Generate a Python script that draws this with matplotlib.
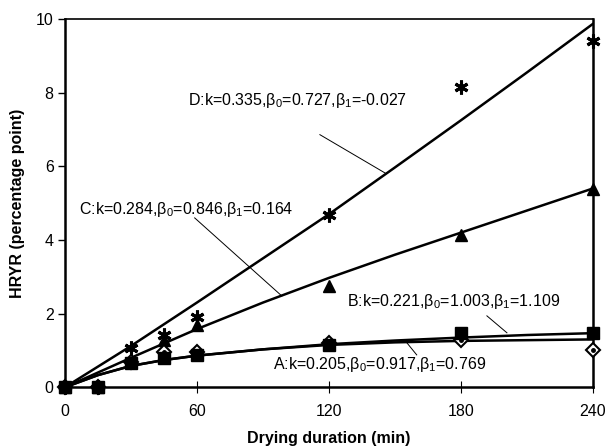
import numpy as np
import matplotlib
matplotlib.use('Agg')
import matplotlib.pyplot as plt

plt.rcParams['font.family'] = ['Liberation Sans', 'DejaVu Sans']
plt.rcParams['mathtext.fontset'] = 'custom'
plt.rcParams['mathtext.rm'] = 'Liberation Sans'
plt.rcParams['mathtext.it'] = 'Liberation Sans'

# measured HRYR points (drying duration in min)
tObs = [0, 15, 30, 45, 60, 120, 180, 240]
aObs = [0, 0, 0.70, 0.97, 0.97, 1.20, 1.28, 1.01]
bObs = [0, 0, 0.65, 0.80, 0.88, 1.15, 1.48, 1.47]
cObs = [0, 0, 0.74, 1.29, 1.69, 2.76, 4.14, 5.39]
dObs = [0, 0, 1.07, 1.42, 1.92, 4.67, 8.15, 9.40]

# fitted curves
tFit = [0, 15, 30, 45, 60, 90, 120, 150, 180, 210, 240]
aFit = [0, 0.33, 0.58, 0.74, 0.86, 1.03, 1.15, 1.22, 1.26, 1.28, 1.30]
bFit = [0, 0.33, 0.58, 0.74, 0.86, 1.03, 1.17, 1.27, 1.35, 1.42, 1.47]
cFit = [0, 0.40, 0.80, 1.19, 1.58, 2.30, 2.97, 3.60, 4.20, 4.80, 5.40]
dFit = [0, 0.56, 1.12, 1.71, 2.30, 3.50, 4.70, 5.97, 7.25, 8.55, 9.87]

labels = {
    'D': r'D:k=0.335,$\beta_0$=0.727,$\beta_1$=-0.027',
    'C': r'C:k=0.284,$\beta_0$=0.846,$\beta_1$=0.164',
    'B': r'B:k=0.221,$\beta_0$=1.003,$\beta_1$=1.109',
    'A': r'A:k=0.205,$\beta_0$=0.917,$\beta_1$=0.769',
}

fig = plt.figure(figsize=(6.06, 4.48), dpi=100)
ax = fig.add_axes([0.107, 0.1355, 0.8715, 0.822])

for yFit in (dFit, cFit, bFit, aFit):
    ax.plot(tFit, yFit, color='black', lw=1.8, zorder=2)

ax.plot(tObs, dObs, ls='none', marker=(6, 2, 0), ms=10, mew=2.2, color='black', zorder=3, clip_on=False)
ax.plot(tObs, cObs, ls='none', marker='^', ms=8, color='black', zorder=3, clip_on=False)
ax.plot(tObs, aObs, ls='none', marker='D', ms=7, mfc='white', mec='black', mew=1.5, zorder=3, clip_on=False)
ax.plot(tObs, aObs, ls='none', marker='o', ms=2.5, color='black', zorder=3, clip_on=False)
ax.plot(tObs, bObs, ls='none', marker='s', ms=8, color='black', zorder=4, clip_on=False)

# annotations with leader lines
ann = [
    ('D', (56, 7.8), (115.9, 6.86), (145.5, 5.82)),
    ('C', (6.5, 4.82), (59, 4.6), (98.6, 2.48)),
    ('B', (128, 2.32), (191.8, 1.94), (200.9, 1.48)),
    ('A', (94.5, 0.63), (155, 1.24), (159.9, 0.88)),
]
for key, txtPos, p0, p1 in ann:
    ax.text(txtPos[0], txtPos[1], labels[key], fontsize=11.5, ha='left', va='center')
    ax.plot([p0[0], p1[0]], [p0[1], p1[1]], color='black', lw=0.7)

ax.set_xlim(0, 240)
ax.set_ylim(0, 10)
ax.set_xticks([0, 60, 120, 180, 240])
ax.set_yticks([0, 2, 4, 6, 8, 10])
ax.tick_params(axis='y', direction='out', length=5, width=1, labelsize=11.5, pad=3)
ax.tick_params(axis='x', direction='inout', length=8, width=0.8, labelsize=11.5, pad=8)

for side in ('left', 'bottom', 'right'):
    ax.spines[side].set_linewidth(1.8)
ax.spines['top'].set_linewidth(1.2)

ax.set_xlabel('Drying duration (min)', fontsize=11.5, fontweight='bold', labelpad=9)
ax.set_ylabel('HRYR (percentage point)', fontsize=11.5, fontweight='bold', labelpad=8)

fig.savefig('out.png', dpi=100)
